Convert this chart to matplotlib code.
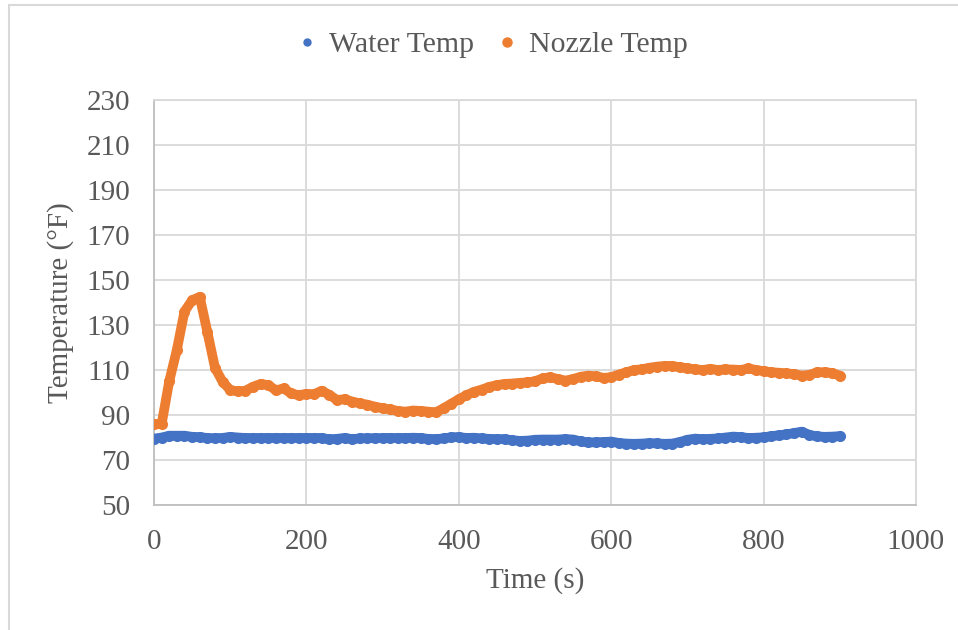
import matplotlib
matplotlib.use("Agg")
import matplotlib.pyplot as plt
from matplotlib.lines import Line2D
from matplotlib.patches import Rectangle

time_s = list(range(0, 901, 10))

water_temp = [
    79.5, 80.0, 80.8, 80.8, 80.8, 80.3, 80.2, 79.8, 79.7, 79.8,
    80.3, 80.0, 79.8, 79.8, 79.8, 79.8, 79.8, 79.8, 79.8, 79.8,
    79.8, 79.8, 79.8, 79.2, 79.4, 79.8, 79.3, 79.6, 79.7, 79.7,
    79.8, 79.8, 79.8, 79.8, 79.9, 79.8, 79.4, 79.3, 79.6, 80.1,
    80.2, 79.8, 79.9, 79.6, 79.4, 79.3, 79.3, 78.8, 78.5, 78.6,
    79.0, 79.1, 79.1, 79.1, 79.3, 79.1, 78.3, 77.8, 77.9, 78.0,
    78.2, 77.6, 77.3, 77.2, 77.3, 77.5, 77.4, 77.2, 77.3, 78.0,
    79.0, 79.5, 79.3, 79.4, 79.6, 80.0, 80.4, 80.2, 79.8, 79.9,
    80.1, 80.6, 81.0, 81.4, 82.0, 82.6, 81.2, 80.5, 80.3, 80.4,
    80.6,
]

nozzle_temp = [
    86.0, 86.0, 105.0, 119.0, 136.0, 141.0, 142.5, 127.0, 111.0, 104.8,
    101.1, 100.5, 100.8, 102.6, 103.8, 103.3, 101.0, 101.8, 99.6, 98.8,
    99.4, 99.2, 100.8, 99.0, 96.7, 97.0, 96.0, 95.2, 94.6, 93.7,
    93.0, 92.5, 91.8, 91.5, 92.0, 91.8, 91.5, 91.2, 93.0, 95.0,
    97.0, 98.8, 100.3, 101.3, 102.5, 103.3, 103.8, 104.0, 104.3, 104.5,
    105.0, 106.3, 106.8, 106.0, 105.3, 106.0, 107.0, 107.5, 107.2, 106.5,
    106.8, 108.0, 109.0, 110.0, 110.3, 111.0, 111.5, 111.8, 111.8, 111.2,
    110.8, 110.3, 110.0, 110.5, 110.0, 110.3, 110.2, 110.0, 110.7, 110.0,
    109.5, 109.0, 108.8, 108.5, 108.2, 107.5, 107.8, 109.0, 109.0, 108.7,
    107.5,
]

series_names = ["Water Temp", "Nozzle Temp"]
x_ticks = [0, 200, 400, 600, 800, 1000]
y_ticks = [50, 70, 90, 110, 130, 150, 170, 190, 210, 230]

BLUE = "#4472C4"
ORANGE = "#ED7D31"
TEXT = "#595959"
GRID = "#D9D9D9"

plt.rcParams["font.family"] = ["Liberation Serif", "DejaVu Serif"]

fig = plt.figure(figsize=(9.58, 6.30), dpi=100)
fig.patches.append(Rectangle((9 / 958, -0.05), 1.0, 1.0 - 5 / 630 + 0.05,
                             transform=fig.transFigure, fill=False,
                             edgecolor="#D9D9D9", linewidth=1.5))

ax = fig.add_axes([154 / 958, 1 - 505 / 630, (916 - 154) / 958, (505 - 100) / 630])

for vals, col in [(water_temp, BLUE), (nozzle_temp, ORANGE)]:
    ax.plot(time_s, vals, color=col, linewidth=7.0, solid_capstyle="round",
            solid_joinstyle="round", marker="o", markersize=8,
            markeredgewidth=0, zorder=3)

ax.set_xlim(0, 1000)
ax.set_ylim(50, 230)
ax.set_xticks(x_ticks)
ax.set_yticks(y_ticks)
ax.grid(True, color=GRID, linewidth=1.3, zorder=0)
ax.set_axisbelow(True)
for s in ax.spines.values():
    s.set_color(GRID)
    s.set_linewidth(1.3)
ax.spines["left"].set_color("#BFBFBF")
ax.spines["bottom"].set_color("#BFBFBF")

ax.tick_params(axis="both", length=0, labelsize=21, colors=TEXT)
ax.tick_params(axis="y", pad=17)
ax.tick_params(axis="x", pad=17)

ax.set_xlabel("Time (s)", fontsize=21, color=TEXT, labelpad=9)
ax.set_ylabel("Temperature (°F)", fontsize=21, color=TEXT, labelpad=9)

handles = [Line2D([], [], linestyle="none", marker="o", color=BLUE, markersize=5),
           Line2D([], [], linestyle="none", marker="o", color=ORANGE, markersize=6.5)]
fig.legend(handles, series_names, loc="center", bbox_to_anchor=(490 / 958, 1 - 45 / 630),
           ncol=2, frameon=False, fontsize=21.5, labelcolor=TEXT, handletextpad=0.25,
           columnspacing=0.6, handlelength=1.0)

fig.savefig("out.png", dpi=100)
